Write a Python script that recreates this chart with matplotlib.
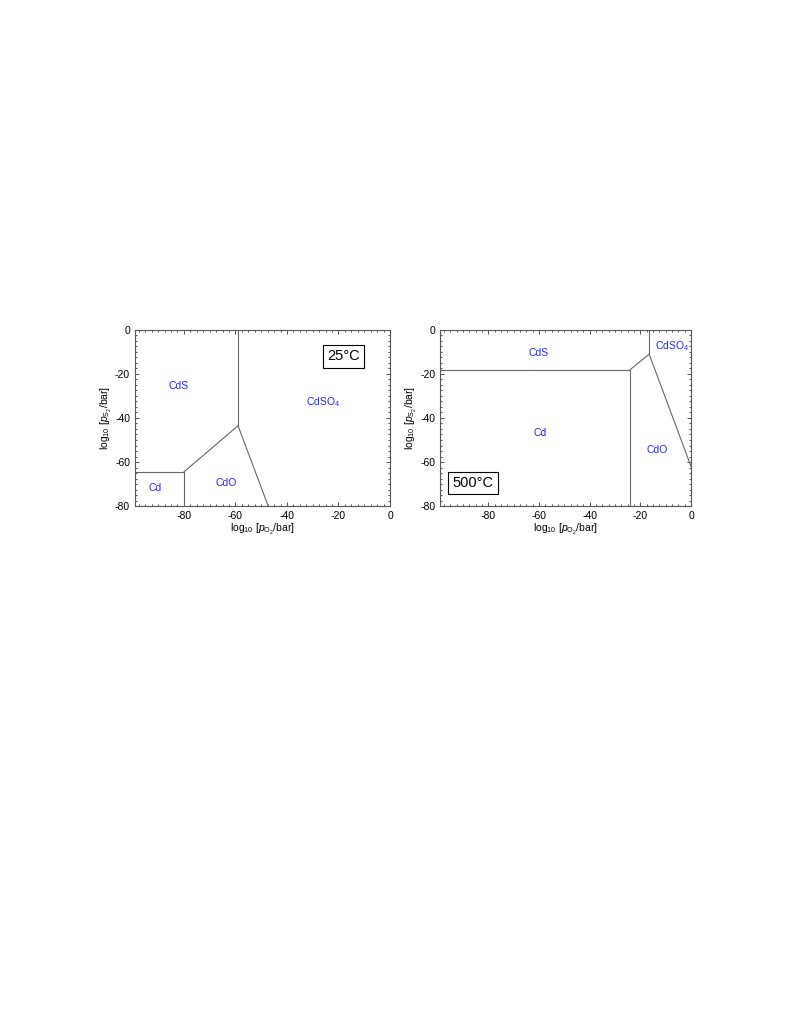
import matplotlib
matplotlib.use("Agg")
import matplotlib.pyplot as plt
from matplotlib.ticker import MultipleLocator

plt.rcParams['font.family'] = ['Liberation Sans', 'DejaVu Sans']
plt.rcParams['mathtext.fontset'] = 'custom'
plt.rcParams['mathtext.rm'] = 'Liberation Sans'
plt.rcParams['mathtext.it'] = 'Liberation Sans:italic'
plt.rcParams['axes.unicode_minus'] = False

# phase boundaries, 25 C
b25_x = [[-99, -80], [-80, -80], [-80, -59], [-59, -59], [-59, -47.3]]
b25_y = [[-64.5, -64.5], [-64.5, -80], [-64.5, -43.5], [-43.5, 0], [-43.5, -80]]
lab25 = ['CdS', 'CdSO$_4$', 'Cd', 'CdO']
lab25_x = [-82, -26, -91, -63.5]
lab25_y = [-25.5, -33, -72, -69.5]

# phase boundaries, 500 C
b500_x = [[-99, -24], [-24, -24], [-24, -16.5], [-16.5, -16.5], [-16.5, 0]]
b500_y = [[-18, -18], [-18, -80], [-18, -11], [-11, 0], [-11, -62]]
lab500 = ['CdS', 'Cd', 'CdO', 'CdSO$_4$']
lab500_x = [-60, -59.5, -13.5, -7.5]
lab500_y = [-10.5, -47, -54.5, -7.5]

fig = plt.figure(figsize=(7.89, 10.21), dpi=100)
ax1 = fig.add_axes([0.1711, 0.5044, 0.3232, 0.1724])
ax2 = fig.add_axes([0.5577, 0.5044, 0.3181, 0.1724])

panels = [
    (ax1, b25_x, b25_y, lab25, lab25_x, lab25_y, '25°C', (-18, -12)),
    (ax2, b500_x, b500_y, lab500, lab500_x, lab500_y, '500°C', (-86, -69.5)),
]

for ax, bx, by, labs, lx, ly, temp, tpos in panels:
    for xs, ys in zip(bx, by):
        ax.plot(xs, ys, color='#666666', lw=0.8)
    for t, x, y in zip(labs, lx, ly):
        ax.text(x, y, t, color='#2424ff', fontsize=7.5, ha='center', va='center')
    ax.text(tpos[0], tpos[1], temp, fontsize=10.5, ha='center', va='center',
            bbox=dict(boxstyle='square,pad=0.3', fc='white', ec='black', lw=0.8))
    ax.set_xlim(-99, 0)
    ax.set_ylim(-80, 0)
    ax.set_xticks([-80, -60, -40, -20, 0])
    ax.set_yticks([-80, -60, -40, -20, 0])
    ax.xaxis.set_minor_locator(MultipleLocator(2.5))
    ax.yaxis.set_minor_locator(MultipleLocator(2.5))
    ax.tick_params(which='both', direction='in', top=True, right=True,
                   labelsize=7.5, width=0.6, colors='#333333', labelcolor='black')
    ax.tick_params(which='major', length=3)
    ax.tick_params(which='minor', length=1.5)
    for s in ax.spines.values():
        s.set_color('#555555')
        s.set_linewidth(0.8)
    ax.set_xlabel(r'log$_{10}$ [$p_{\mathrm{O_2}}$/bar]', fontsize=7.5, labelpad=1)
    ax.set_ylabel(r'log$_{10}$ [$p_{\mathrm{S_2}}$/bar]', fontsize=7.5, labelpad=1)

fig.savefig('out.png', dpi=100)
